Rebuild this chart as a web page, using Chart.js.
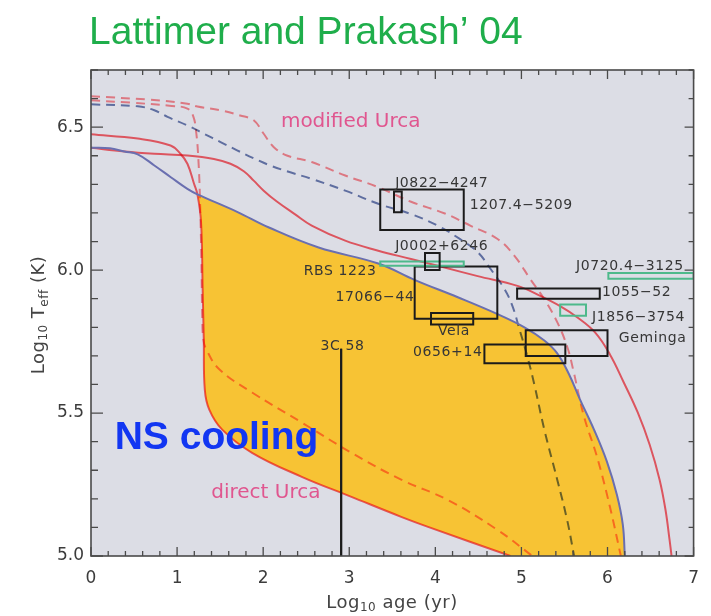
<!DOCTYPE html>
<html><head><meta charset="utf-8">
<script src="https://cdn.jsdelivr.net/npm/chart.js@4.4.0/dist/chart.umd.min.js"></script>
<style>html,body{margin:0;padding:0;background:#fff;}canvas{display:block;}</style>
</head><body>
<canvas id="c" width="711" height="616"></canvas>
<script>
// ---------------- DATA ----------------
const xRange = [0, 7];
const yRange = [5.0, 6.7];
const xTickStep = 0.2;
const yTickStep = 0.1;

// solid red, direct-Urca (fast) cooling curve
const redFastX = [0.00, 0.543, 0.924, 1.039, 1.120, 1.197, 1.236, 1.278, 1.297, 1.310, 1.322, 1.374, 1.524, 1.871, 2.448, 3.025, 3.603, 3.915, 4.873];
const redFastY = [6.475, 6.460, 6.436, 6.407, 6.372, 6.302, 6.265, 6.170, 5.933, 5.758, 5.582, 5.512, 5.442, 5.361, 5.277, 5.207, 5.137, 5.102, 5.000];

// solid red, modified-Urca (slow) cooling curve
const redSlowX = [0, 0.389, 0.736, 1.120, 1.428, 1.620, 1.775, 1.890, 2.006, 2.159, 2.367, 2.564, 2.953, 3.337, 3.718, 4.107, 4.492, 4.954, 5.219, 5.450, 5.647, 5.855, 6.028, 6.189, 6.351, 6.490, 6.605, 6.674, 6.721, 6.744];
const redSlowY = [6.428, 6.415, 6.407, 6.401, 6.389, 6.372, 6.346, 6.313, 6.278, 6.240, 6.196, 6.156, 6.103, 6.068, 6.039, 6.009, 5.979, 5.945, 5.910, 5.874, 5.835, 5.782, 5.705, 5.607, 5.502, 5.389, 5.267, 5.161, 5.056, 5.000];

// solid blue curve (upper edge of the shaded band)
const blueX = [0, 0.219, 0.389, 0.543, 0.736, 0.927, 1.120, 1.236, 1.697, 2.067, 2.644, 3.337, 3.764, 4.261, 4.723, 5.035, 5.266, 5.416, 5.554, 5.681, 5.843, 5.993, 6.109, 6.178, 6.201];
const blueY = [6.428, 6.426, 6.415, 6.405, 6.366, 6.325, 6.284, 6.265, 6.204, 6.149, 6.079, 6.023, 5.965, 5.905, 5.846, 5.800, 5.754, 5.709, 5.635, 5.547, 5.442, 5.330, 5.214, 5.109, 5.000];

// dashed red, slow
const redDashSlowX = [0, 0.681, 1.120, 1.236, 1.501, 1.732, 1.890, 2.006, 2.121, 2.275, 2.564, 2.953, 3.337, 3.718, 4.111, 4.411, 4.723, 4.919, 5.104, 5.266, 5.416, 5.531, 5.600, 5.727, 5.878, 6.028, 6.155];
const redDashSlowY = [6.608, 6.596, 6.582, 6.572, 6.559, 6.541, 6.524, 6.477, 6.431, 6.401, 6.378, 6.331, 6.290, 6.239, 6.198, 6.155, 6.109, 6.050, 5.968, 5.898, 5.818, 5.733, 5.653, 5.488, 5.347, 5.172, 5.000];

// dashed red, fast
const redDashFastX = [0, 0.450, 0.912, 1.120, 1.189, 1.224, 1.247, 1.264, 1.282, 1.293, 1.305, 1.339, 1.490, 1.871, 2.448, 3.025, 3.603, 4.145, 4.723, 5.127];
const redDashFastY = [6.594, 6.586, 6.575, 6.565, 6.537, 6.477, 6.389, 6.268, 6.039, 5.828, 5.758, 5.723, 5.653, 5.572, 5.467, 5.361, 5.267, 5.196, 5.091, 5.000];

// dashed blue
const blueDashX = [0, 0.543, 0.736, 0.889, 1.120, 1.313, 1.505, 1.697, 1.890, 2.082, 2.275, 2.564, 2.953, 3.337, 3.718, 4.030, 4.284, 4.492, 4.642, 4.804, 4.896, 4.977, 5.069, 5.150, 5.266, 5.416, 5.531, 5.612];
const blueDashY = [6.580, 6.573, 6.559, 6.536, 6.506, 6.477, 6.448, 6.419, 6.391, 6.366, 6.346, 6.319, 6.278, 6.232, 6.196, 6.155, 6.109, 6.063, 6.004, 5.933, 5.874, 5.793, 5.698, 5.600, 5.442, 5.267, 5.126, 5.000];

// the shaded band starts where the fast red curve leaves the blue curve
const bandStartX = 1.236;

// observed neutron stars (error boxes)
const boxX0 = [3.36, 3.52, 3.88, 3.36, 3.76, 3.95, 4.57, 5.05, 4.95, 5.45, 6.01];
const boxX1 = [4.33, 3.61, 4.05, 4.33, 4.72, 4.44, 5.51, 6.00, 5.91, 5.75, 7.00];
const boxY0 = [6.140, 6.202, 6.000, 6.015, 5.830, 5.810, 5.674, 5.700, 5.900, 5.840, 5.970];
const boxY1 = [6.282, 6.275, 6.060, 6.030, 6.013, 5.850, 5.740, 5.790, 5.936, 5.880, 5.990];
const boxKind = ['pulsar','pulsar','pulsar','isolated','pulsar','pulsar','pulsar','pulsar','pulsar','isolated','isolated'];

// 3C 58 upper limit
const limitX = [2.906, 2.906];
const limitY = [5.000, 5.725];

// source names
const labelText = ['J0822\u22124247','1207.4\u22125209','J0002+6246','RBS 1223','17066\u221244','Vela','3C 58','0656+14','J0720.4\u22123125','1055\u221252','J1856\u22123754','Geminga'];
// label anchors (data units, left edge / vertical middle)
const labelX = [3.533, 4.400, 3.533, 2.471, 2.841, 4.030, 2.667, 3.741, 5.635, 5.935, 5.820, 6.132];
const labelY = [6.305, 6.228, 6.084, 5.996, 5.905, 5.786, 5.733, 5.712, 6.014, 5.923, 5.835, 5.761];

// ---------------- STYLE ----------------
const S = {
  plotBg: '#dcdde5',
  yellow: '#f7c334',
  red: '#ff626a',        // pre-multiplied (drawn with multiply blend)
  redDash: '#ff8a91',
  blue: '#6a6fb0',
  blueDash: '#6e7fb2',
  black: '#1b1b1b',
  green: '#4db98b',
  axis: '#4a4a4a',
  label: '#363636',
  pink: '#e0568f',
  nsBlue: '#1236f2',
  title: '#1fae4b'
};

function pts(xs, ys) { return xs.map((x, i) => ({x: x, y: ys[i]})); }
function boxPts(i) {
  return [{x: boxX0[i], y: boxY0[i]}, {x: boxX1[i], y: boxY0[i]}, {x: boxX1[i], y: boxY1[i]},
          {x: boxX0[i], y: boxY1[i]}, {x: boxX0[i], y: boxY0[i]}];
}
function curve(data, color, dash, order, blend) {
  return {data: data, showLine: true, borderColor: color, borderWidth: 2, borderDash: dash || [],
    pointRadius: 0, pointHitRadius: 0, tension: 0.4, fill: false,
    order: order, blend: blend, borderCapStyle: 'butt'};
}

const datasets = [];
const IDX_REDFAST = datasets.push(curve(pts(redFastX, redFastY), S.red, null, 10, 'multiply')) - 1;
datasets.push(curve(pts(redSlowX, redSlowY), S.red, null, 10, 'multiply'));
datasets.push(curve(pts(redDashSlowX, redDashSlowY), S.redDash, [9, 6], 10, 'multiply'));
datasets.push(curve(pts(redDashFastX, redDashFastY), S.redDash, [9, 6], 10, 'multiply'));
datasets.push(curve(pts(blueDashX, blueDashY), S.blueDash, [9, 6], 10, 'multiply'));
const IDX_BLUE = datasets.push(curve(pts(blueX, blueY), S.blue, null, 5)) - 1;
for (let i = 0; i < boxX0.length; i++) {
  datasets.push({data: boxPts(i), showLine: true, tension: 0, borderWidth: 2,
    borderColor: boxKind[i] === 'isolated' ? S.green : S.black, pointRadius: 0, pointHitRadius: 0,
    order: 1, borderCapStyle: 'square', borderJoinStyle: 'miter'});
}
datasets.push({data: pts(limitX, limitY), showLine: true, tension: 0, borderWidth: 2, borderColor: S.black,
  pointRadius: 0, pointHitRadius: 0, order: 0});

const isMajorX = v => Math.abs(v - Math.round(v)) < 1e-6;
const isMajorY = v => Math.abs(v * 2 - Math.round(v * 2)) < 1e-6;

function seg(ctx, a, b) {
  if (a.cp2x !== undefined && b.cp1x !== undefined) ctx.bezierCurveTo(a.cp2x, a.cp2y, b.cp1x, b.cp1y, b.x, b.y);
  else ctx.lineTo(b.x, b.y);
}
function segRev(ctx, b, a) {
  if (a.cp2x !== undefined && b.cp1x !== undefined) ctx.bezierCurveTo(b.cp1x, b.cp1y, a.cp2x, a.cp2y, a.x, a.y);
  else ctx.lineTo(a.x, a.y);
}

function rich(ctx, parts, cx, y) {
  let total = 0;
  parts.forEach(p => { ctx.font = p.font; p.w = ctx.measureText(p.t).width; total += p.w; });
  let x = cx - total / 2;
  ctx.textAlign = 'left';
  parts.forEach(p => { ctx.font = p.font; ctx.fillText(p.t, x, y + (p.dy || 0)); x += p.w; });
}

const plugin = {
  id: 'ns',
  beforeDatasetsDraw(chart) {
    const ctx = chart.ctx, a = chart.chartArea;
    ctx.save();
    ctx.fillStyle = S.plotBg;
    ctx.fillRect(a.left, a.top, a.right - a.left, a.bottom - a.top);
    // shaded band between blue curve and fast red curve
    const bm = chart.getDatasetMeta(IDX_BLUE), rm = chart.getDatasetMeta(IDX_REDFAST);
    [bm, rm].forEach(m => { if (m.dataset && m.dataset.updateControlPoints) m.dataset.updateControlPoints(a, 'x'); });
    const bp = bm.data, rp = rm.data;
    const b0 = blueX.findIndex(v => v >= bandStartX - 1e-9);
    const r0 = redFastX.findIndex(v => v >= bandStartX - 1e-9);
    ctx.beginPath();
    ctx.moveTo(bp[b0].x, bp[b0].y);
    for (let i = b0; i < bp.length - 1; i++) seg(ctx, bp[i], bp[i + 1]);
    ctx.lineTo(rp[rp.length - 1].x, rp[rp.length - 1].y);
    for (let i = rp.length - 1; i > r0; i--) segRev(ctx, rp[i], rp[i - 1]);
    ctx.closePath();
    ctx.fillStyle = S.yellow;
    ctx.fill();
    ctx.restore();
  },
  beforeDatasetDraw(chart, args) {
    const ds = chart.data.datasets[args.index];
    if (ds.blend) { chart.ctx.save(); chart.ctx.globalCompositeOperation = ds.blend; }
  },
  afterDatasetDraw(chart, args) {
    const ds = chart.data.datasets[args.index];
    if (ds.blend) chart.ctx.restore();
  },
  afterDatasetsDraw(chart) {
    const ctx = chart.ctx, a = chart.chartArea, xs = chart.scales.x, ys = chart.scales.y;
    ctx.save();
    // source labels
    ctx.fillStyle = S.label;
    ctx.font = '14px "DejaVu Sans"';
    try { ctx.letterSpacing = '0.6px'; } catch (e) {}
    ctx.textAlign = 'left'; ctx.textBaseline = 'middle';
    labelText.forEach((t, i) => ctx.fillText(t, xs.getPixelForValue(labelX[i]), ys.getPixelForValue(labelY[i])));
    // redraw the 3C 58 line on top of its label
    ctx.strokeStyle = S.black; ctx.lineWidth = 2;
    ctx.beginPath();
    ctx.moveTo(xs.getPixelForValue(limitX[0]), ys.getPixelForValue(limitY[0]));
    ctx.lineTo(xs.getPixelForValue(limitX[1]), ys.getPixelForValue(limitY[1]));
    ctx.stroke();
    try { ctx.letterSpacing = '0px'; } catch (e) {}
    // curve annotations
    ctx.fillStyle = S.pink;
    ctx.font = '20px "DejaVu Sans"';
    ctx.fillText('modified Urca', xs.getPixelForValue(2.206), ys.getPixelForValue(6.519));
    ctx.fillText('direct Urca', xs.getPixelForValue(1.397), ys.getPixelForValue(5.221));
    ctx.fillStyle = S.nsBlue;
    ctx.font = 'bold 39px "Liberation Sans"';
    ctx.textBaseline = 'alphabetic';
    ctx.fillText('NS cooling', xs.getPixelForValue(0.275), ys.getPixelForValue(5.375));
    // tick marks, all four sides, pointing inward
    ctx.strokeStyle = S.axis; ctx.lineWidth = 1.3;
    ctx.beginPath();
    xs.ticks.forEach(t => {
      const p = xs.getPixelForValue(t.value), L = isMajorX(t.value) ? 9 : 5;
      ctx.moveTo(p, a.bottom); ctx.lineTo(p, a.bottom - L);
      ctx.moveTo(p, a.top); ctx.lineTo(p, a.top + L);
    });
    ys.ticks.forEach(t => {
      const p = ys.getPixelForValue(t.value), L = isMajorY(t.value) ? 12 : 7;
      ctx.moveTo(a.left, p); ctx.lineTo(a.left + L, p);
      ctx.moveTo(a.right, p); ctx.lineTo(a.right - (isMajorY(t.value) ? 9 : 5), p);
    });
    ctx.stroke();
    ctx.lineWidth = 1.6;
    ctx.strokeRect(a.left, a.top, a.right - a.left, a.bottom - a.top);
    ctx.restore();
  },
  afterDraw(chart) {
    const ctx = chart.ctx;
    ctx.save();
    ctx.fillStyle = S.title;
    ctx.font = '39px "Liberation Sans"';
    ctx.textAlign = 'left'; ctx.textBaseline = 'alphabetic';
    ctx.fillText('Lattimer and Prakash\u2019 04', 89, 44);
    // axis titles
    ctx.fillStyle = '#444';
    try { ctx.letterSpacing = '0.5px'; } catch (e) {}
    const big = '18px "DejaVu Sans"', small = '12px "DejaVu Sans"';
    rich(ctx, [{t: 'Log', font: big}, {t: '10', font: small, dy: 3}, {t: ' age (yr)', font: big}], 392, 608);
    ctx.translate(44, 315);
    ctx.rotate(-Math.PI / 2);
    rich(ctx, [{t: 'Log', font: big}, {t: '10', font: small, dy: 3}, {t: ' T', font: big},
               {t: 'eff', font: small, dy: 4}, {t: ' (K)', font: big}], 0, 0);
    ctx.restore();
  }
};

new Chart(document.getElementById('c'), {
  type: 'scatter',
  data: {datasets: datasets},
  options: {
    responsive: false, animation: false, events: [],
    layout: {padding: {top: 70, right: 14, left: 0, bottom: 0}},
    plugins: {legend: {display: false}, tooltip: {enabled: false}, title: {display: false}},
    scales: {
      x: {type: 'linear', min: xRange[0], max: xRange[1],
        grid: {display: false, drawTicks: false}, border: {display: false},
        ticks: {stepSize: xTickStep, autoSkip: false, maxRotation: 0, padding: 12,
          color: '#3c3c3c', font: {family: 'DejaVu Sans', size: 17},
          callback: v => isMajorX(v) ? String(Math.round(v)) : ''},
        afterFit: s => { s.height = 60; }},
      y: {type: 'linear', min: yRange[0], max: yRange[1],
        grid: {display: false, drawTicks: false}, border: {display: false},
        ticks: {stepSize: yTickStep, autoSkip: false, padding: 7,
          color: '#3c3c3c', font: {family: 'DejaVu Sans', size: 17},
          callback: v => isMajorY(v) ? v.toFixed(1) : ''},
        afterFit: s => { s.width = 91; }}
    }
  },
  plugins: [plugin]
});
</script>
</body></html>
